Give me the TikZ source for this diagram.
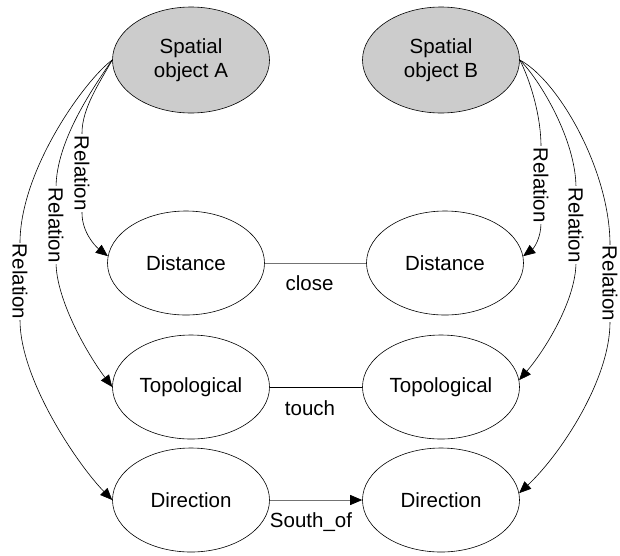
\documentclass[tikz,border=0pt]{standalone}
\usepackage{fontspec}
\setmainfont{Liberation Sans}
\usetikzlibrary{shapes.geometric,arrows.meta}
\begin{document}
\begin{tikzpicture}[x=1pt,y=-1pt,
  font=\fontsize{20.5}{24.6}\selectfont,
  oval/.style={ellipse,draw,line width=0.6pt,inner sep=0pt,minimum width=157pt,minimum height=104pt,align=center},
  objoval/.style={oval,fill=gray!40,minimum height=106pt},
  rel/.style={draw,line width=0.6pt,-{Triangle[length=12pt,width=10pt]}},
  lbl/.style={rotate=-90,fill=white,inner sep=1pt},
  link/.style={draw,line width=0.8pt},
  greylink/.style={link,draw=black!55}]
\useasboundingbox (0,0) rectangle (620,555);

\node[objoval] (A) at (191,60) {Spatial\\object A};
\node[objoval] (B) at (441,60) {Spatial\\object B};
\node[oval] (DL) at (186,263) {Distance};
\node[oval] (DR) at (445,263) {Distance};
\node[oval] (TL) at (191,387) {Topological};
\node[oval] (TR) at (441,387) {Topological};
\node[oval] (RL) at (191,500) {Direction};
\node[oval] (RR) at (441,500) {Direction};

% horizontal links
\draw[greylink] (DL) -- node[midway,xshift=-6pt,yshift=-27pt,anchor=base] (lclose) {close} (DR);
\draw[link] (TL) -- node[midway,xshift=-6pt,yshift=-28pt,anchor=base] (ltouch) {touch} (TR);
\draw[greylink,-{Triangle[length=12pt,width=10pt,black]}] (RL) -- node[midway,xshift=-5pt,yshift=-27pt,anchor=base] (lsouth) {South\_of} (RR);

% relations from A
\draw[rel] (A.west) .. controls (100,82) and (82,108) .. (82,133)
  -- node[lbl] (la1) {Relation} (82,213)
  .. controls (82,232) and (95,246) .. (DL.175);
\draw[rel] (A.west) .. controls (95,85) and (56,140) .. (56,188)
  -- node[lbl] (la2) {Relation} (56,262)
  .. controls (56,300) and (88,355) .. (TL.west);
\draw[rel] (A.west) .. controls (85,80) and (20,170) .. (20,243)
  -- node[lbl] (la3) {Relation} (20,320)
  .. controls (20,380) and (78,465) .. (RL.west);

% relations from B
\draw[rel] (B.east) .. controls (530,80) and (541,115) .. (541,147)
  -- node[lbl] (lb1) {Relation} (541,223)
  .. controls (541,238) and (534,248) .. (DR.5);
\draw[rel] (B.east) .. controls (540,80) and (576,140) .. (576,188)
  -- node[lbl] (lb2) {Relation} (576,262)
  .. controls (576,300) and (545,350) .. (TR.5);
\draw[rel] (B.east) .. controls (558,80) and (610,170) .. (610,245)
  -- node[lbl] (lb3) {Relation} (610,322)
  .. controls (610,380) and (560,455) .. (RR.5);
\end{tikzpicture}
\end{document}
